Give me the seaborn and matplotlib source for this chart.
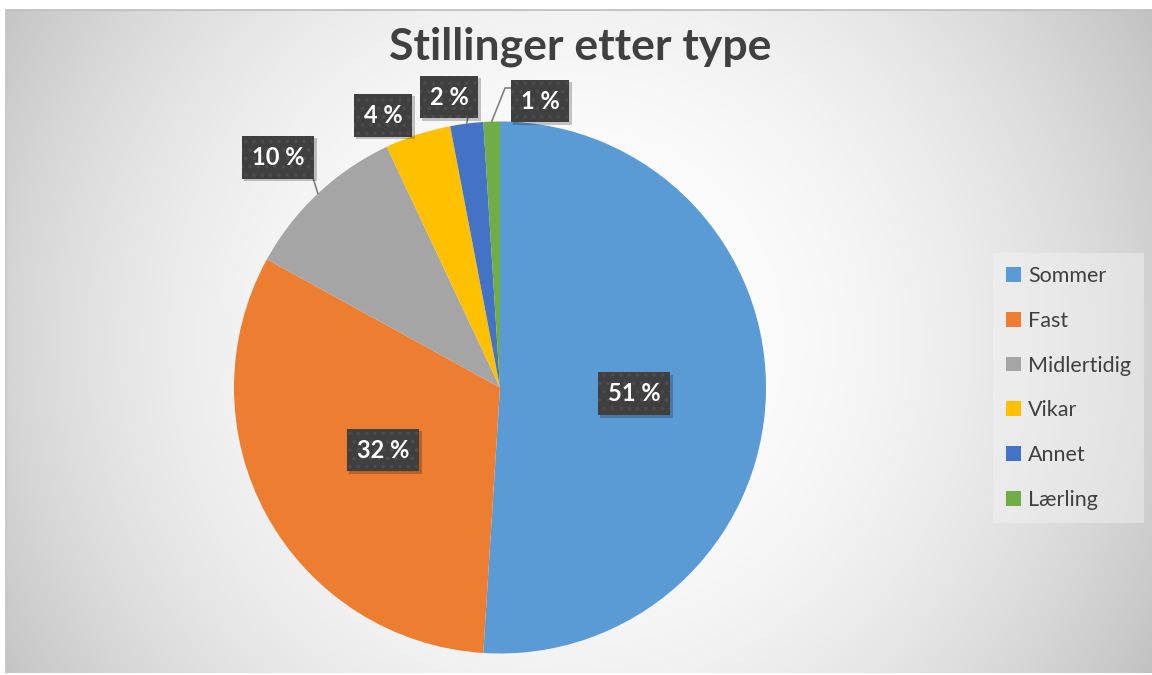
import numpy as np
import seaborn as sns
import matplotlib.pyplot as plt
from matplotlib.patches import Patch, Rectangle
from matplotlib.transforms import IdentityTransform

# data
categories = ["Sommer", "Fast", "Midlertidig", "Vikar", "Annet", "Lærling"]
shares = [51, 32, 10, 4, 2, 1]
colors = ["#5B9BD5", "#ED7D31", "#A5A5A5", "#FFC000", "#4472C4", "#70AD47"]
title = "Stillinger etter type"

# label box centres (pie data coords, radius 1)
label_pos = [(0.504, -0.024), (-0.44, -0.235), (-0.835, 0.866),
             (-0.44, 1.024), (-0.192, 1.092), (0.15, 1.077)]

sns.set_theme(style="white")
plt.rcParams['font.family'] = ['Lato', 'DejaVu Sans']
plt.rcParams['hatch.linewidth'] = 1.5

W, H = 1152, 675
fig = plt.figure(figsize=(W / 100, H / 100), dpi=100)
fig.patch.set_facecolor("white")

# radial gradient background of chart area
x0, y0, x1, y1 = 6, 10, 1152, 673
xs = np.arange(x0, x1)
ys = np.arange(y0, y1)
gx, gy = np.meshgrid(xs, ys)
d = np.sqrt((gx - 570) ** 2 + (gy - 340) ** 2)
val = np.clip(255 - 57 * (d / 647) ** 2.2, 185, 255) / 255
img = np.dstack([val, val, val])
bg = fig.add_axes([x0 / W, (H - y1) / H, (x1 - x0) / W, (y1 - y0) / H], zorder=0)
bg.imshow(img, aspect="auto", extent=(0, 1, 0, 1), origin="upper")
bg.set_xlim(0, 1)
bg.set_ylim(0, 1)
bg.axis("off")
bg.plot([0, 1], [1, 1], color="#BDBDBD", lw=1.2, transform=bg.transAxes, clip_on=False)
bg.plot([0, 0], [0, 1], color="#C4C4C4", lw=1.2, transform=bg.transAxes, clip_on=False)

# pie
cx, cy, r = 500, 387.5, 266
ax = fig.add_axes([(cx - r) / W, (H - cy - r) / H, 2 * r / W, 2 * r / H], zorder=1)
ax.patch.set_alpha(0)
wedges, _ = ax.pie(shares, colors=colors, startangle=90, counterclock=False,
                   radius=1, wedgeprops=dict(linewidth=0))
ax.set_xlim(-1, 1)
ax.set_ylim(-1, 1)
ax.set_aspect("auto")
ax.axis("off")

def edge_point(w, rr=1.0):
    a = np.deg2rad((w.theta1 + w.theta2) / 2)
    return rr * np.cos(a), rr * np.sin(a)

# leader lines
lc = "#808080"
ex, ey = edge_point(wedges[2])
ax.plot([ex, -0.703], [ey, 0.788], color=lc, lw=1.2, clip_on=False)
ex, ey = edge_point(wedges[4])
ax.plot([ex, -0.117], [ey, 1.032], color=lc, lw=1.2, clip_on=False)
ex, ey = edge_point(wedges[5])
ax.plot([ex, 0.019, 0.064], [ey, 1.126, 1.126], color=lc, lw=1.2, clip_on=False)

# data labels
labels = []
for v, (lx, ly) in zip(shares, label_pos):
    t = ax.text(lx, ly, f"{v} %", ha="center", va="center", color="white",
                fontsize=17, fontweight="bold", zorder=5,
                bbox=dict(boxstyle="square,pad=0.42", facecolor="#3F3F3F",
                          edgecolor="#4B4B4B", hatch="..", linewidth=0))
    labels.append(t)

# soft drop shadow behind each label box
fig.canvas.draw()
for t in labels:
    bb = t.get_bbox_patch().get_window_extent()
    sh = Rectangle((bb.x0 + 2.5, bb.y0 - 2.5), bb.width, bb.height,
                   transform=IdentityTransform(), facecolor="black",
                   alpha=0.22, linewidth=0, zorder=4, clip_on=False)
    ax.add_artist(sh)

fig.text(580 / W, 1 - 47 / H, title, ha="center", va="center",
         fontsize=32, fontweight="bold", color="#404040")

handles = [Patch(facecolor=c, edgecolor="none") for c in colors]
leg = fig.legend(handles, categories, loc="center left",
                 bbox_to_anchor=(993 / W, 1 - 388 / H), frameon=True,
                 fontsize=15.5, labelspacing=1.15, handlelength=0.68,
                 handleheight=0.68, handletextpad=0.35, borderpad=0.6,
                 borderaxespad=0, fancybox=False)
leg.get_frame().set_facecolor("#F4F4F4")
leg.get_frame().set_alpha(0.45)
leg.get_frame().set_edgecolor("none")
for txt in leg.get_texts():
    txt.set_color("#404040")

fig.savefig("out.png", dpi=100)
